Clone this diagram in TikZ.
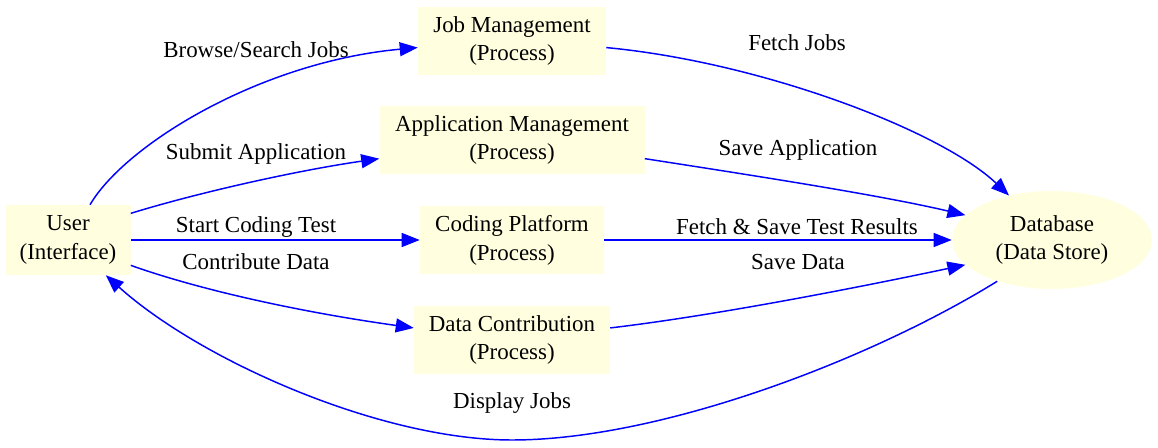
\documentclass[tikz,border=0pt]{standalone}
\usepackage{fontspec}
\setmainfont{Liberation Serif}
\usetikzlibrary{shapes.geometric,arrows.meta}
\definecolor{lightyellow}{HTML}{FFFFE0}
\definecolor{flowblue}{HTML}{0000FF}

\tikzstyle{process}=[rectangle,fill=lightyellow,align=center,inner sep=0pt,minimum height=51pt]
\tikzstyle{store}=[ellipse,fill=lightyellow,align=center,inner sep=0pt,minimum width=150pt,minimum height=73.5pt]
\tikzstyle{flow} = [draw=flowblue,line width=1.1pt,-{Triangle[length=13.5pt,width=10.5pt]}]
\tikzstyle{flowlabel}=[inner sep=0pt]

\begin{document}
\begin{tikzpicture}[x=0.75pt,y=-0.75pt,font=\fontsize{17.2}{21.7}\selectfont]
	\useasboundingbox (0,0) rectangle (1158,448);
		% First we draw the user, the processes and the store
		\node[process,minimum width=93.75pt,minimum height=52.5pt] (user) at (68,240) {User\\(Interface)};
		\node[process,minimum width=141pt] (job) at (512,41) {Job Management\\(Process)};
		\node[process,minimum width=198.75pt] (app) at (512,140) {Application Management\\(Process)};
		\node[process,minimum width=138pt] (code) at (512,240) {Coding Platform\\(Process)};
		\node[process,minimum width=147pt] (data) at (512,340) {Data Contribution\\(Process)};
		\node[store] (db) at (1052,240) {Database\\(Data Store)};
		% Labels of the flows
		\node[flowlabel] (lbrowse) at (256,50) {Browse/Search Jobs};
		\node[flowlabel] (lsubmit) at (256,154) {Submit Application};
		\node[flowlabel] (lstart) at (256,227) {Start Coding Test};
		\node[flowlabel] (lcontrib) at (256,262) {Contribute Data};
		\node[flowlabel] (lfetch) at (797,43) {Fetch Jobs};
		\node[flowlabel] (lsaveapp) at (798,150) {Save Application};
		\node[flowlabel] (lresults) at (797,227) {Fetch \& Save Test Results};
		\node[flowlabel] (lsavedata) at (798,262) {Save Data};
		\node[flowlabel] (ldisplay) at (512,403) {Display Jobs};
		% Connect user to the processes
		\path[flow] (user.58) .. controls (125,145) and (260,62) .. (job.184);
		\path[flow] (user.23) .. controls (200,192) and (300,170) .. (app.188);
		\path[flow] (user.east) -- (code.west);
		\path[flow] (user.-22) .. controls (200,290) and (300,312) .. (data.173);
		% Connect the processes to the store
		\path[flow] (job.-4) .. controls (760,62) and (940,130) .. (db.134);
		\path[flow] (app.-8) .. controls (750,175) and (880,195) .. (db.164);
		\path[flow] (code.east) -- (db.west);
		\path[flow] (data.7) .. controls (720,315) and (870,285) .. (db.196);
		% Back to the user
		\path[flow] (db.217) .. controls (870,360) and (660,440) .. (512,440)
			.. controls (380,440) and (200,360) .. (user.-43);
	\end{tikzpicture}
\end{document}
